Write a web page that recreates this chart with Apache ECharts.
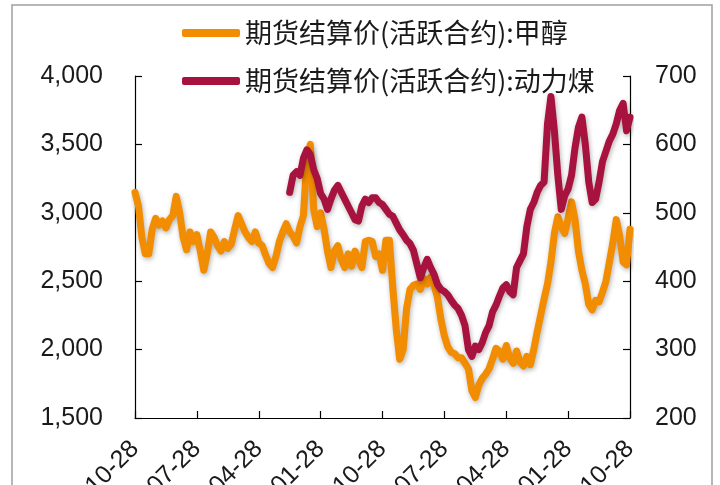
<!DOCTYPE html>
<html>
<head>
<meta charset="utf-8">
<script src="https://cdn.jsdelivr.net/npm/echarts@6/dist/echarts.min.js"></script>
<style>
  html, body { margin: 0; padding: 0; background: #ffffff; }
  #chart { width: 720px; height: 485px; }
</style>
</head>
<body>
<div id="chart"></div>
<script>
// 日期（每半月一个点）
const categories = [
  "2011-10-28","2011-11-13","2011-11-28","2011-12-13","2011-12-28",
  "2012-01-13","2012-01-28","2012-02-13","2012-02-28","2012-03-13","2012-03-28","2012-04-13","2012-04-28",
  "2012-05-13","2012-05-28","2012-06-13","2012-06-28","2012-07-13","2012-07-28","2012-08-13","2012-08-28",
  "2012-09-13","2012-09-28","2012-10-13","2012-10-28","2012-11-13","2012-11-28","2012-12-13","2012-12-28",
  "2013-01-13","2013-01-28","2013-02-13","2013-02-28","2013-03-13","2013-03-28","2013-04-13","2013-04-28",
  "2013-05-13","2013-05-28","2013-06-13","2013-06-28","2013-07-13","2013-07-28","2013-08-13","2013-08-28",
  "2013-09-13","2013-09-28","2013-10-13","2013-10-28","2013-11-13","2013-11-28","2013-12-13","2013-12-28",
  "2014-01-13","2014-01-28","2014-02-13","2014-02-28","2014-03-13","2014-03-28","2014-04-13","2014-04-28",
  "2014-05-13","2014-05-28","2014-06-13","2014-06-28","2014-07-13","2014-07-28","2014-08-13","2014-08-28",
  "2014-09-13","2014-09-28","2014-10-13","2014-10-28","2014-11-13","2014-11-28","2014-12-13","2014-12-28",
  "2015-01-13","2015-01-28","2015-02-13","2015-02-28","2015-03-13","2015-03-28","2015-04-13","2015-04-28",
  "2015-05-13","2015-05-28","2015-06-13","2015-06-28","2015-07-13","2015-07-28","2015-08-13","2015-08-28",
  "2015-09-13","2015-09-28","2015-10-13","2015-10-28","2015-11-13","2015-11-28","2015-12-13","2015-12-28",
  "2016-01-13","2016-01-28","2016-02-13","2016-02-28","2016-03-13","2016-03-28","2016-04-13","2016-04-28",
  "2016-05-13","2016-05-28","2016-06-13","2016-06-28","2016-07-13","2016-07-28","2016-08-13","2016-08-28",
  "2016-09-13","2016-09-28","2016-10-13","2016-10-28","2016-11-13","2016-11-28","2016-12-13","2016-12-28",
  "2017-01-13","2017-01-28","2017-02-13","2017-02-28","2017-03-13","2017-03-28","2017-04-13","2017-04-28",
  "2017-05-13","2017-05-28","2017-06-13","2017-06-28","2017-07-13","2017-07-28","2017-08-13","2017-08-28",
  "2017-09-13","2017-09-28","2017-10-13","2017-10-28"
];

// 横轴刻度标签
const tickLabels = [
  "2011-10-28","2012-07-28","2013-04-28","2014-01-28","2014-10-28",
  "2015-07-28","2016-04-28","2017-01-28","2017-10-28"
];

// 期货结算价(活跃合约):甲醇
const methanol = [
  3150,3050,2820,2700,2700,2880,2960,2910,2940,2890,2950,2980,3120,3000,2820,2730,2860,2790,
  2840,2720,2580,2700,2860,2820,2760,2720,2790,2740,2770,2880,2980,2920,2860,2820,2790,2860,
  2780,2760,2690,2630,2600,2680,2790,2860,2920,2860,2830,2780,2900,2980,3400,3500,3020,2900,
  3000,2880,2720,2600,2720,2760,2660,2600,2700,2610,2720,2660,2600,2790,2800,2790,2680,2700,
  2580,2800,2800,2450,2150,1930,2000,2300,2440,2470,2480,2440,2520,2480,2530,2470,2380,2220,
  2100,2020,1980,1970,1940,1940,1900,1860,1700,1650,1740,1790,1820,1860,1930,2010,1990,1930,
  2030,1940,1900,1990,1910,1880,1950,1890,2000,2130,2250,2370,2480,2640,2850,2970,2900,2850,
  2960,3080,2950,2720,2580,2480,2330,2290,2360,2350,2420,2500,2640,2780,2950,2830,2640,2620,2880
];

// 期货结算价(活跃合约):动力煤（2013-09 起）
const coalStart = 45;
const coal = [
  530,555,560,555,580,592,585,563,550,
  528,520,505,520,533,540,530,520,510,500,490,488,510,520,515,522,522,515,
  512,505,498,495,485,475,468,460,455,445,425,405,420,432,420,410,395,388,
  385,380,372,365,360,350,335,300,290,305,300,310,325,335,355,365,378,390,
  395,385,380,420,430,440,480,505,515,530,540,545,630,670,620,555,505,525,
  535,555,595,625,640,600,545,515,520,545,575,590,605,615,630,650,660,620,640
];

const seriesNames = ["期货结算价(活跃合约):甲醇", "期货结算价(活跃合约):动力煤"];
const colors = ["#f28c00", "#a8123e"];

const chart = echarts.init(document.getElementById("chart"));

const showTick = (idx, value) => tickLabels.indexOf(value) !== -1;
const numFont = "Liberation Sans, Arial, sans-serif";

const lineStyle = (color) => ({
  color: color,
  width: 7,
  cap: "round",
  join: "round",
  shadowColor: "rgba(0, 0, 0, 0.3)",
  shadowBlur: 5,
  shadowOffsetX: 1,
  shadowOffsetY: 2
});

const option = {
  animation: false,
  backgroundColor: "#ffffff",
  graphic: [
    {
      type: "rect",
      shape: { x: 12, y: 5, width: 700, height: 500 },
      style: { fill: "none", stroke: "#a0a0a0", lineWidth: 1.5 },
      silent: true
    }
  ],
  legend: {
    orient: "vertical",
    left: 177,
    top: 13,
    itemWidth: 58,
    itemHeight: 8,
    itemGap: 18,
    icon: "roundRect",
    textStyle: {
      fontFamily: "Noto Sans CJK SC",
      fontSize: 27,
      color: "#1a1a1a",
      lineHeight: 30
    },
    data: seriesNames
  },
  grid: {
    left: 135,
    right: 90,
    top: 76,
    bottom: 67,
    containLabel: false,
    outerBoundsMode: "none"
  },
  xAxis: {
    type: "category",
    boundaryGap: false,
    data: categories,
    axisLine: { lineStyle: { color: "#000", width: 1.2 } },
    axisTick: {
      inside: true,
      length: 7,
      interval: showTick,
      lineStyle: { color: "#000", width: 1.2 }
    },
    axisLabel: {
      interval: showTick,
      rotate: 45,
      margin: 27,
      fontFamily: numFont,
      fontSize: 25,
      color: "#1a1a1a"
    },
    splitLine: { show: false }
  },
  yAxis: [
    {
      type: "value",
      min: 1500,
      max: 4000,
      interval: 500,
      axisLine: { show: true, lineStyle: { color: "#000", width: 1.2 } },
      axisTick: { show: true, inside: true, length: 7, lineStyle: { color: "#000", width: 1.2 } },
      axisLabel: {
        margin: 32,
        fontFamily: numFont,
        fontSize: 25,
        color: "#1a1a1a",
        formatter: (v) => v.toLocaleString("en-US")
      },
      splitLine: { show: false }
    },
    {
      type: "value",
      min: 200,
      max: 700,
      interval: 100,
      axisLine: { show: true, lineStyle: { color: "#000", width: 1.2 } },
      axisTick: { show: true, inside: true, length: 7, lineStyle: { color: "#000", width: 1.2 } },
      axisLabel: {
        margin: 25,
        fontFamily: numFont,
        fontSize: 25,
        color: "#1a1a1a"
      },
      splitLine: { show: false }
    }
  ],
  series: [
    {
      name: seriesNames[0],
      type: "line",
      yAxisIndex: 0,
      data: methanol,
      symbol: "none",
      color: colors[0],
      lineStyle: lineStyle(colors[0])
    },
    {
      name: seriesNames[1],
      type: "line",
      yAxisIndex: 1,
      data: new Array(coalStart).fill(null).concat(coal),
      symbol: "none",
      color: colors[1],
      lineStyle: lineStyle(colors[1])
    }
  ]
};

chart.setOption(option);
</script>
</body>
</html>
